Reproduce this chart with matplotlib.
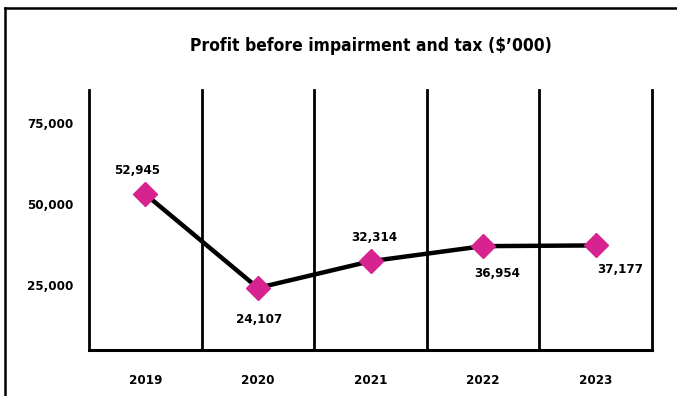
import matplotlib
matplotlib.use("Agg")
import matplotlib.pyplot as plt
from matplotlib.lines import Line2D

# Profit before impairment and tax, $'000
years = ["2019", "2020", "2021", "2022", "2023"]
profit = [52945, 24107, 32314, 36954, 37177]
y_ticks = [25000, 50000, 75000]

# label offsets from each marker, in points
label_offsets = [(-6, 17), (1, -23), (3, 17), (10, -20), (18, -17)]

plt.rcParams["font.family"] = ["DejaVu Sans"]
plt.rcParams["font.stretch"] = "condensed"
plt.rcParams["font.weight"] = "bold"

magenta = "#d6238f"

fig = plt.figure(figsize=(6.77, 3.96), dpi=100)
ax = fig.add_axes([89 / 677, 46 / 396, 563 / 677, 260 / 396])

x = list(range(len(years)))
ax.plot(x, profit, color="black", lw=3.2, zorder=3, solid_capstyle="round")
ax.plot(x, profit, ls="none", marker="D", ms=12, color=magenta, zorder=4)

for xi, val, (dx, dy) in zip(x, profit, label_offsets):
    ax.annotate(f"{val:,}", (xi, val), xytext=(dx, dy), textcoords="offset points",
                ha="center", va="center", fontsize=9.5, fontweight="bold")

# cell dividers
for b in [i - 0.5 for i in range(len(years) + 1)]:
    ax.axvline(b, color="black", lw=2, zorder=2, clip_on=False)

ax.set_xlim(-0.5, len(years) - 0.5)
ax.set_ylim(5000, 85000)
ax.set_xticks(x)
ax.set_xticklabels(years, fontsize=9.5, fontweight="bold")
ax.set_yticks(y_ticks)
ax.set_yticklabels([f"{t:,}" for t in y_ticks], fontsize=9.5, fontweight="bold")
ax.tick_params(axis="both", length=0)
ax.tick_params(axis="x", pad=17)
ax.tick_params(axis="y", pad=11)

for side in ["top", "left", "right"]:
    ax.spines[side].set_visible(False)
ax.spines["bottom"].set_linewidth(2.2)

ax.set_title("Profit before impairment and tax ($\u2019000)", fontsize=12.5,
             fontweight="bold", pad=0, y=1.0 + 39 / 260)

# outer frame
fig.add_artist(Line2D([5 / 677, 5 / 677], [0, 1 - 8 / 396], color="black", lw=1.8,
                      transform=fig.transFigure))
fig.add_artist(Line2D([5 / 677, 1], [1 - 8 / 396, 1 - 8 / 396], color="black", lw=1.8,
                      transform=fig.transFigure))

fig.savefig("out.png", dpi=100)
